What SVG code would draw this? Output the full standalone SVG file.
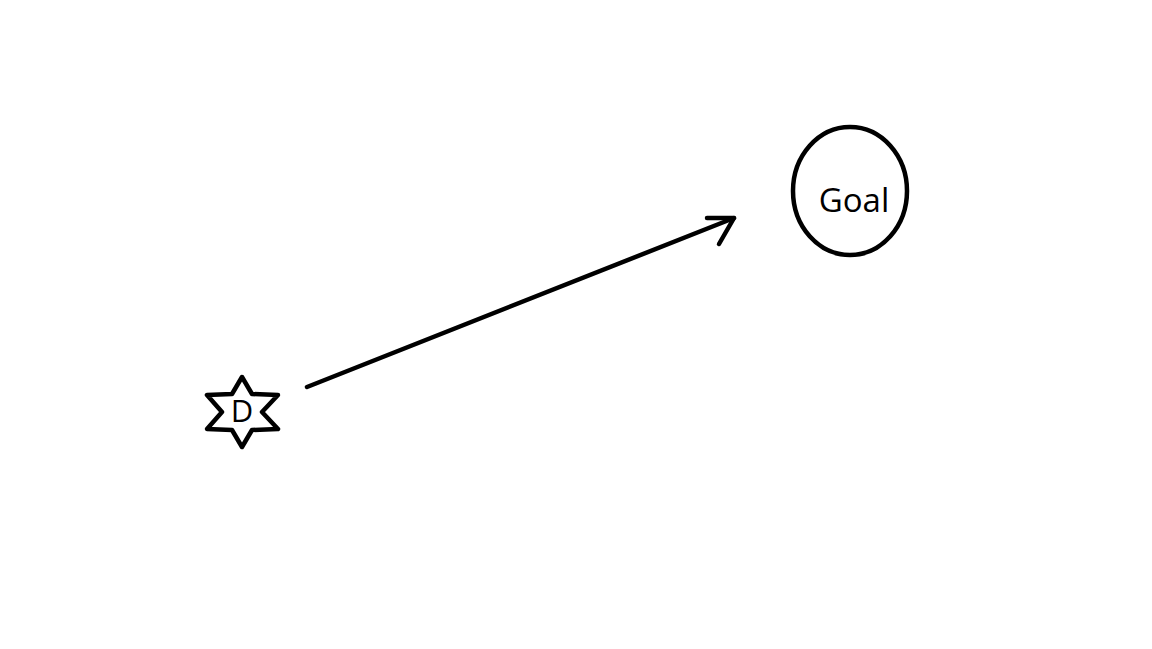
<svg xmlns="http://www.w3.org/2000/svg" width="1152" height="649" viewBox="0 0 1152 649">
<style>
.s{fill:none;stroke:#000;stroke-width:4.5;stroke-linecap:round;stroke-linejoin:round}
.t{font-family:"Open Sans","Noto Sans",sans-serif;fill:#000}
</style>
<rect width="1152" height="649" fill="#fff"/>
<g id="D">
<polygon class="s" points="242,377 252,394 278,395 262,412 278,429 252,430 242,447 232,430 207,429 222,412 207,395 232,394"/>
<text class="t" x="242" y="422" font-size="31" text-anchor="middle">D</text>
</g>
<g id="Goal">
<ellipse class="s" cx="850" cy="191" rx="57" ry="64" stroke-width="4"/>
<text class="t" x="854" y="212" font-size="33" text-anchor="middle">Goal</text>
</g>
<g id="connectors">
<line class="s" x1="307" y1="387" x2="734" y2="218"/>
<polyline class="s" points="707,218 734,218 719,244"/>
</g>
</svg>
